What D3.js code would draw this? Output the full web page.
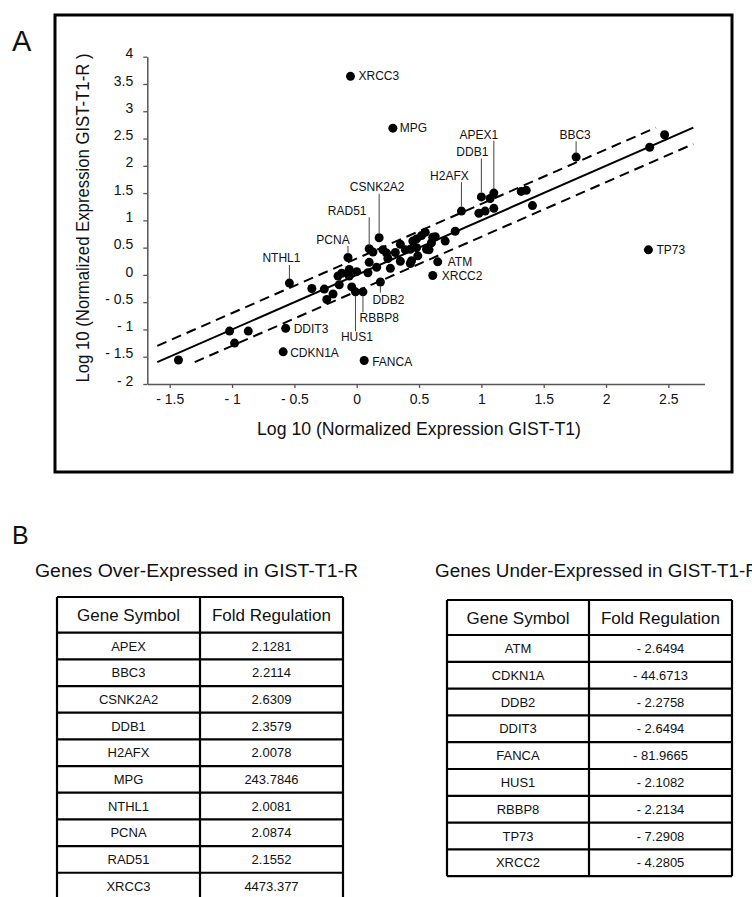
<!DOCTYPE html>
<html>
<head>
<meta charset="utf-8">
<script src="https://cdn.jsdelivr.net/npm/d3@7"></script>
<style>
body { margin: 0; background: #fff; }
text { font-family: "Liberation Sans", Arial, Helvetica, sans-serif; fill: #111; }
</style>
</head>
<body>
<svg id="fig"></svg>
<script>
// genes in the array that are not labelled (log10 GIST-T1, log10 GIST-T1-R)
const dotX = [-1.43, -1.02, -0.87, -0.98, -0.36, -0.26, -0.24, -0.19, -0.14, -0.15, -0.12, -0.06, -0.06, 0.00, -0.04,
  0.09, 0.10, 0.13, 0.16, 0.21, 0.25, 0.27, 0.31, 0.35, 0.35, 0.43, 0.45, 0.48, 0.55, 0.56, 0.61,
  0.79, 0.71, 0.63, 0.60, 0.58, 0.52, 0.48, 0.43, 0.39, 0.49, 0.44, 0.24,
  1.07, 0.98, 1.03, 1.10, 1.32, 1.36, 1.41, 2.47, 2.35];
const dotY = [-1.56, -1.03, -1.03, -1.25, -0.25, -0.26, -0.45, -0.35, -0.18, -0.02, 0.03, 0.10, -0.02, 0.06, -0.22,
  0.04, 0.23, 0.42, 0.14, 0.46, 0.30, 0.12, 0.41, 0.56, 0.25, 0.21, 0.62, 0.50, 0.78, 0.47, 0.69,
  0.80, 0.62, 0.70, 0.59, 0.46, 0.72, 0.66, 0.47, 0.46, 0.35, 0.26, 0.40,
  1.40, 1.13, 1.17, 1.22, 1.53, 1.55, 1.27, 2.57, 2.34];

// labelled genes
const labelGenes = ["XRCC3", "MPG", "APEX1", "DDB1", "H2AFX", "BBC3", "CSNK2A2", "RAD51", "PCNA", "NTHL1",
  "ATM", "XRCC2", "DDB2", "RBBP8", "HUS1", "DDIT3", "CDKN1A", "FANCA", "TP73"];
const labelX = [-0.05, 0.29, 1.10, 1.00, 0.84, 1.76, 0.18, 0.10, -0.07, -0.54,
  0.65, 0.61, 0.19, 0.05, -0.01, -0.57, -0.59, 0.06, 2.34];
const labelY = [3.64, 2.69, 1.50, 1.43, 1.17, 2.16, 0.68, 0.48, 0.32, -0.15,
  0.24, -0.01, -0.13, -0.31, -0.31, -0.98, -1.41, -1.57, 0.46];

const xTicks = [-1.5, -1, -0.5, 0, 0.5, 1, 1.5, 2, 2.5];
const yTicks = [-2, -1.5, -1, -0.5, 0, 0.5, 1, 1.5, 2, 2.5, 3, 3.5, 4];

// identity line and 2-fold boundaries (log10 offset, x start, x end)
const lineOffset = [0, 0.3, -0.3];
const lineFrom = [-1.6, -1.6, -1.3];
const lineTo = [2.7, 2.4, 2.7];

// tables
const overGenes = ["APEX", "BBC3", "CSNK2A2", "DDB1", "H2AFX", "MPG", "NTHL1", "PCNA", "RAD51", "XRCC3"];
const overFold = [2.1281, 2.2114, 2.6309, 2.3579, 2.0078, 243.7846, 2.0081, 2.0874, 2.1552, 4473.377];
const underGenes = ["ATM", "CDKN1A", "DDB2", "DDIT3", "FANCA", "HUS1", "RBBP8", "TP73", "XRCC2"];
const underFold = [-2.6494, -44.6713, -2.2758, -2.6494, -81.9665, -2.1082, -2.2134, -7.2908, -4.2805];

const svg = d3.select("#fig").attr("width", 752).attr("height", 897);
const fmt = d => d < 0 ? "- " + Math.abs(d) : String(d);

// ---------- panel A ----------
svg.append("text").attr("x", 12).attr("y", 51).style("font-size", "29px").text("A");
svg.append("rect")
  .attr("x", 55).attr("y", 15).attr("width", 677).attr("height", 457)
  .attr("fill", "none").attr("stroke", "#000").attr("stroke-width", 3);

const x = d3.scaleLinear().domain([-1.68, 2.79]).range([147.3, 704.5]);
const y = d3.scaleLinear().domain([-2, 4]).range([384, 56.7]);

const yAxis = svg.append("g")
  .attr("transform", `translate(${x(-1.68)},0)`)
  .call(d3.axisLeft(y).tickValues(yTicks).tickFormat(fmt).tickSize(4).tickSizeOuter(0).tickPadding(10));
const xAxis = svg.append("g")
  .attr("transform", `translate(0,${y(-2)})`)
  .call(d3.axisBottom(x).tickValues(xTicks).tickFormat(fmt).tickSize(4).tickSizeOuter(0).tickPadding(6));
[xAxis, yAxis].forEach(a => {
  a.select(".domain").attr("stroke", "#555").attr("stroke-width", 1.5);
  a.selectAll(".tick line").attr("stroke", "#555").attr("stroke-width", 1.3);
  a.selectAll(".tick text").style("font-size", "14px").style("font-family", null).attr("fill", "#111");
});
// y labels sit a little above their ticks
yAxis.selectAll(".tick text").attr("dy", "0.08em");

svg.append("text")
  .attr("x", 419).attr("y", 435)
  .attr("text-anchor", "middle")
  .attr("textLength", 324).attr("lengthAdjust", "spacingAndGlyphs")
  .style("font-size", "18px")
  .text("Log 10 (Normalized Expression  GIST-T1)");
svg.append("text")
  .attr("transform", "translate(89,218) rotate(-90)")
  .attr("text-anchor", "middle")
  .attr("textLength", 329).attr("lengthAdjust", "spacingAndGlyphs")
  .style("font-size", "18px")
  .text("Log 10 (Normalized Expression GIST-T1-R )");

// fold lines
const lines = lineOffset.map((o, i) => ({o, a: lineFrom[i], b: lineTo[i]}));
svg.append("g").selectAll("line")
  .data(lines)
  .join("line")
    .attr("x1", d => x(d.a)).attr("y1", d => y(d.a + d.o))
    .attr("x2", d => x(d.b)).attr("y2", d => y(d.b + d.o))
    .attr("stroke", "#000").attr("stroke-width", 2)
    .attr("stroke-dasharray", d => d.o === 0 ? null : "10,6");

// points
const pts = dotX.map((v, i) => ({x: v, y: dotY[i]}))
  .concat(labelGenes.map((g, i) => ({x: labelX[i], y: labelY[i], gene: g})));
svg.append("g").selectAll("circle")
  .data(pts)
  .join("circle")
    .attr("cx", d => x(d.x)).attr("cy", d => y(d.y))
    .attr("r", 4.5).attr("fill", "#000");

// label placement in pixels relative to the dot: text dx, dy, anchor, leader from/to (dy)
const labelPos = {
  XRCC3: [8, 4, "start"], MPG: [7, 4, "start"], TP73: [8, 4, "start"],
  ATM: [10, 4, "start"], XRCC2: [9, 5, "start"], DDIT3: [8, 5, "start"],
  CDKN1A: [7, 5, "start"], FANCA: [8, 5, "start"],
  NTHL1: [-8, -21, "middle", -4, -18], PCNA: [-15, -13, "middle", -3.5, -11.5],
  RAD51: [-22, -34, "middle", -3, -31.5], CSNK2A2: [-2, -46.6, "middle", -4.5, -44],
  H2AFX: [-12, -31, "middle", -5, -29], DDB1: [-9, -40.4, "middle", -4.5, -38.4],
  APEX1: [-15, -54, "middle", -4, -52.3], BBC3: [-1, -17.7, "middle", -3.5, -15.7],
  DDB2: [-8, 21.6, "start", 4, 10.6], RBBP8: [-3.4, 30.4, "start", 4, 20.4],
  HUS1: [1.5, 49.4, "middle", 4, 39.4]
};
const labelled = pts.filter(d => d.gene);
svg.append("g").selectAll("line")
  .data(labelled.filter(d => labelPos[d.gene].length > 3))
  .join("line")
    .attr("x1", d => x(d.x)).attr("x2", d => x(d.x))
    .attr("y1", d => y(d.y) + labelPos[d.gene][3])
    .attr("y2", d => y(d.y) + labelPos[d.gene][4])
    .attr("stroke", "#444").attr("stroke-width", 1);
svg.append("g").selectAll("text")
  .data(labelled)
  .join("text")
    .attr("x", d => x(d.x) + labelPos[d.gene][0])
    .attr("y", d => y(d.y) + labelPos[d.gene][1])
    .attr("text-anchor", d => labelPos[d.gene][2])
    .style("font-size", "12px")
    .text(d => d.gene);

// ---------- panel B ----------
svg.append("text").attr("x", 12).attr("y", 544).style("font-size", "25px").text("B");

const drawTable = (genes, folds, title, x0, xm, x1, top, headH, rowH, titleX, titleLen) => {
  const g = svg.append("g");
  g.append("text")
    .attr("x", titleX).attr("y", 577)
    .attr("textLength", titleLen).attr("lengthAdjust", "spacingAndGlyphs")
    .style("font-size", "18px")
    .text(title);
  const rows = genes.map((d, i) => ({gene: d, fold: folds[i]}));
  const bottom = top + headH + rows.length * rowH;
  const ys = [top, top + headH].concat(rows.map((d, i) => top + headH + (i + 1) * rowH));
  g.selectAll("line.h")
    .data(ys)
    .join("line")
      .attr("class", "h")
      .attr("x1", x0).attr("x2", x1).attr("y1", d => d).attr("y2", d => d)
      .attr("stroke", "#000").attr("stroke-width", 2.2);
  g.selectAll("line.v")
    .data([x0, xm, x1])
    .join("line")
      .attr("class", "v")
      .attr("x1", d => d).attr("x2", d => d).attr("y1", top).attr("y2", bottom)
      .attr("stroke", "#000").attr("stroke-width", 2.2);
  g.append("text").attr("x", (x0 + xm) / 2).attr("y", top + headH / 2 + 6.5)
    .attr("text-anchor", "middle").style("font-size", "17px").text("Gene Symbol");
  g.append("text").attr("x", (xm + x1) / 2).attr("y", top + headH / 2 + 6.5)
    .attr("text-anchor", "middle").style("font-size", "17px").text("Fold Regulation");
  g.selectAll("text.gene")
    .data(rows)
    .join("text")
      .attr("class", "gene")
      .attr("x", (x0 + xm) / 2)
      .attr("y", (d, i) => top + headH + i * rowH + rowH / 2 + 4.5)
      .attr("text-anchor", "middle").style("font-size", "13px")
      .text(d => d.gene);
  g.selectAll("text.fold")
    .data(rows)
    .join("text")
      .attr("class", "fold")
      .attr("x", (xm + x1) / 2)
      .attr("y", (d, i) => top + headH + i * rowH + rowH / 2 + 4.5)
      .attr("text-anchor", "middle").style("font-size", "13px")
      .text(d => fmt(d.fold));
};

drawTable(overGenes, overFold, "Genes Over-Expressed in GIST-T1-R", 57, 200, 343, 597, 35.7, 26.67, 35, 323);
drawTable(underGenes, underFold, "Genes Under-Expressed in GIST-T1-R", 447, 589, 732, 600, 35, 26.8, 435, 324);
</script>
</body>
</html>
